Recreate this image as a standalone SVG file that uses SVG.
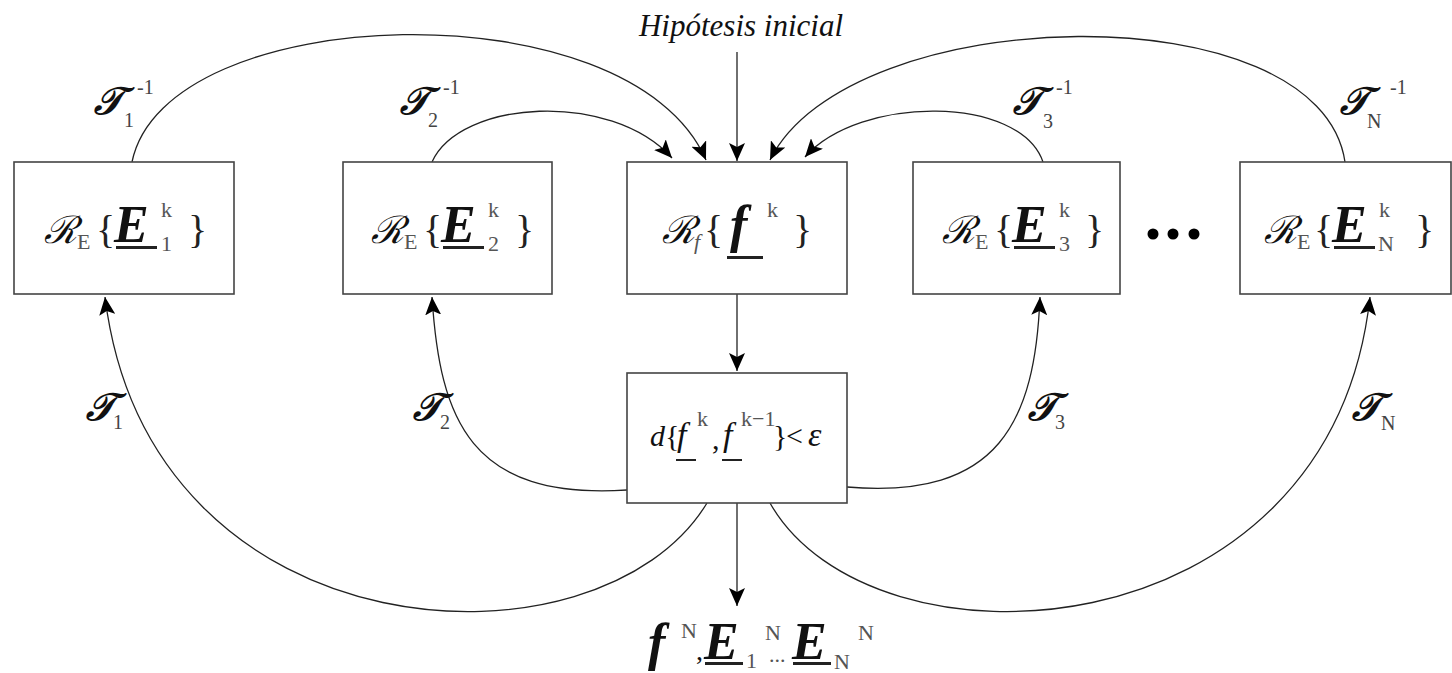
<svg xmlns="http://www.w3.org/2000/svg" width="1452" height="673" viewBox="0 0 1452 673">
<defs>
<marker id="ah" markerUnits="userSpaceOnUse" markerWidth="20" markerHeight="16" refX="18" refY="8" orient="auto">
<path d="M0,0 L18,8 L0,16 L4,8 Z" fill="#000"/>
</marker>
</defs>
<style>
.box{fill:#fff;stroke:#444;stroke-width:1.6}
.a{fill:none;stroke:#222;stroke-width:1.3;marker-end:url(#ah)}
.t{font-family:"Liberation Serif","DejaVu Serif",serif;fill:#111}
.R{font-family:"DejaVu Serif","Liberation Serif",serif;font-style:italic;font-size:38px;fill:#111}
.big{font-family:"Liberation Serif",serif;font-size:40px;fill:#222}
.E{font-family:"Liberation Serif",serif;font-weight:bold;font-style:italic;font-size:52px;fill:#111}
.s{font-family:"Liberation Serif",serif;font-size:22px;fill:#555}
.T{font-family:"DejaVu Serif","Liberation Serif",serif;font-style:italic;font-weight:bold;font-size:38px;fill:#111}
.lbl{font-family:"Liberation Serif",serif;font-size:20px;fill:#444}
.ul{fill:#222}
</style>
<rect width="1452" height="673" fill="#fff"/>
<g id="connectors">
<path class="a" d="M737,52 L737,161"/>
<path class="a" d="M737,294 L737,371"/>
<path class="a" d="M737,503 L737,606"/>
<path class="a" d="M132,162 C165,0 630,-15 706,160"/>
<path class="a" d="M432,162 C460,100 610,90 672,158"/>
<path class="a" d="M1043,162 C1020,95 860,95 805,157"/>
<path class="a" d="M1345,162 C1320,-10 850,0 770,160"/>
<path class="a" d="M627,490 C470,500 440,420 432,297"/>
<path class="a" d="M707,503 C600,680 150,660 105,297"/>
<path class="a" d="M847,487 C1000,500 1035,420 1040,297"/>
<path class="a" d="M770,503 C870,680 1330,660 1370,297"/>
</g>
<g id="label-hipotesis"><text class="t" x="741" y="36" text-anchor="middle" font-size="31" font-style="italic" fill="#333">Hipótesis inicial</text></g>
<g id="label-T1inv"><text class="T" x="94" y="114">𝒯</text><text class="lbl" x="124" y="127">1</text><text class="lbl" x="137" y="94">-1</text></g>
<g id="label-T2inv"><text class="T" x="400" y="114">𝒯</text><text class="lbl" x="428" y="127">2</text><text class="lbl" x="443" y="94">-1</text></g>
<g id="label-T3inv"><text class="T" x="1013" y="114">𝒯</text><text class="lbl" x="1043" y="128">3</text><text class="lbl" x="1056" y="94">-1</text></g>
<g id="label-TNinv"><text class="T" x="1340" y="114">𝒯</text><text class="lbl" x="1367" y="128">N</text><text class="lbl" x="1390" y="94">-1</text></g>
<g id="label-T1"><text class="T" x="86" y="420">𝒯</text><text class="lbl" x="113" y="429">1</text></g>
<g id="label-T2"><text class="T" x="413" y="420">𝒯</text><text class="lbl" x="440" y="429">2</text></g>
<g id="label-T3"><text class="T" x="1028" y="420">𝒯</text><text class="lbl" x="1055" y="429">3</text></g>
<g id="label-TN"><text class="T" x="1352" y="420">𝒯</text><text class="lbl" x="1381" y="430">N</text></g>
<g id="node-E1">
<rect class="box" x="14" y="162" width="220" height="132"/>
<text class="R" x="44" y="243">ℛ</text><text class="s" x="77" y="249" font-size="20">E</text>
<text class="big" x="96" y="243">{</text>
<text class="E" x="114" y="242">E</text><rect class="ul" x="116" y="246" width="41" height="3"/>
<text class="s" x="161" y="217">k</text><text class="s" x="161" y="251">1</text>
<text class="big" x="188" y="243">}</text>
</g>
<g id="node-E2">
<rect class="box" x="343" y="162" width="209" height="132"/>
<text class="R" x="371" y="243">ℛ</text><text class="s" x="404" y="249" font-size="20">E</text>
<text class="big" x="423" y="243">{</text>
<text class="E" x="441" y="242">E</text><rect class="ul" x="443" y="246" width="41" height="3"/>
<text class="s" x="488" y="217">k</text><text class="s" x="488" y="251">2</text>
<text class="big" x="515" y="243">}</text>
</g>
<g id="node-f">
<rect class="box" x="627" y="162" width="220" height="132"/>
<text class="R" x="662" y="243">ℛ</text><text class="s" x="694" y="249" font-size="20" font-style="italic">f</text>
<text class="big" x="704" y="243">{</text>
<text class="E" x="730" y="242" font-size="48">f</text><rect class="ul" x="727" y="256" width="36" height="3"/>
<text class="s" x="767" y="217">k</text>
<text class="big" x="793" y="243">}</text>
</g>
<g id="node-E3">
<rect class="box" x="913" y="162" width="207" height="132"/>
<text class="R" x="942" y="243">ℛ</text><text class="s" x="975" y="249" font-size="20">E</text>
<text class="big" x="994" y="243">{</text>
<text class="E" x="1012" y="242">E</text><rect class="ul" x="1014" y="246" width="41" height="3"/>
<text class="s" x="1059" y="217">k</text><text class="s" x="1059" y="251">3</text>
<text class="big" x="1085" y="243">}</text>
</g>
<g id="dots"><circle cx="1153" cy="234" r="5.5" fill="#000"/><circle cx="1173" cy="234" r="5.5" fill="#000"/><circle cx="1194" cy="234" r="5.5" fill="#000"/></g>
<g id="node-EN">
<rect class="box" x="1240" y="162" width="211" height="132"/>
<text class="R" x="1264" y="243">ℛ</text><text class="s" x="1297" y="249" font-size="20">E</text>
<text class="big" x="1314" y="243">{</text>
<text class="E" x="1332" y="242">E</text><rect class="ul" x="1334" y="246" width="41" height="3"/>
<text class="s" x="1379" y="217">k</text><text class="s" x="1378" y="251">N</text>
<text class="big" x="1415" y="243">}</text>
</g>
<g id="node-check">
<rect class="box" x="627" y="373" width="220" height="130"/>
<text class="t" x="650" y="446" font-size="30" font-style="italic">d</text>
<text class="t" x="665" y="446" font-size="30">{</text>
<text class="t" x="677" y="446" font-size="34" font-style="italic">f</text><rect class="ul" x="676" y="459" width="20" height="2"/>
<text class="s" x="697" y="426" font-size="15">k</text>
<text class="t" x="712" y="449" font-size="30">,</text>
<text class="t" x="723" y="446" font-size="34" font-style="italic">f</text><rect class="ul" x="722" y="459" width="20" height="2"/>
<text class="s" x="741" y="426" font-size="15">k−1</text>
<text class="t" x="773" y="446" font-size="30">}</text>
<text class="t" x="786" y="446" font-size="30">&lt;</text>
<text class="t" x="808" y="446" font-size="34" font-style="italic">ε</text>
</g>
<g id="label-output">
<text class="E" x="648" y="660" font-size="48">f</text>
<text class="s" x="681" y="638" font-size="16">N</text>
<text class="t" x="696" y="660" font-size="28">,</text>
<text class="E" x="704" y="659" font-size="44">E</text><rect class="ul" x="705" y="662" width="38" height="3"/>
<text class="s" x="746" y="668">1</text><text class="s" x="765" y="640" font-size="16">N</text>
<text class="s" x="769" y="662" font-size="13">...</text>
<text class="E" x="792" y="659" font-size="44">E</text><rect class="ul" x="793" y="662" width="38" height="3"/>
<text class="s" x="834" y="669">N</text><text class="s" x="858" y="640" font-size="16">N</text>
</g>
</svg>
